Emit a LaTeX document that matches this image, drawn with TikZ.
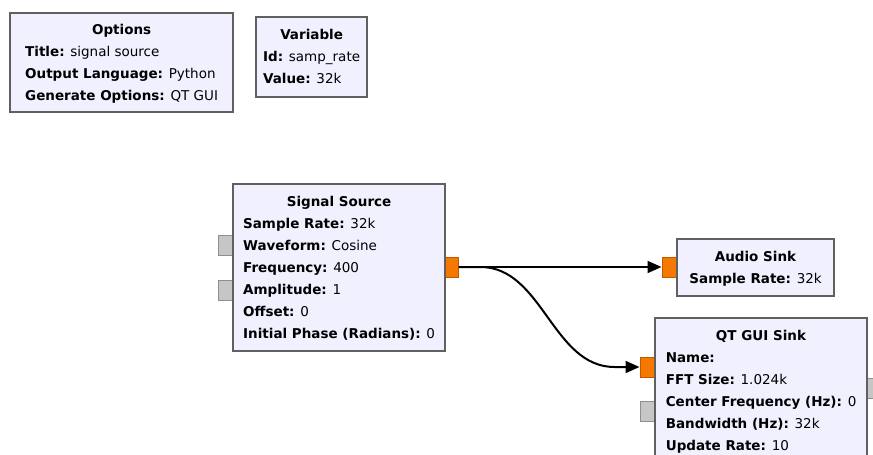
\documentclass[tikz,border=0pt]{standalone}
\usepackage{fontspec}
\setmainfont{DejaVu Sans}
\usetikzlibrary{arrows.meta,positioning}
\definecolor{blockfill}{HTML}{F0F0FF}
\definecolor{blockline}{HTML}{606060}
\definecolor{portorange}{HTML}{F57900}
\definecolor{portorangeline}{HTML}{C05A00}
\definecolor{portgrey}{HTML}{C6C6C6}
\definecolor{portgreyline}{HTML}{8E8E8E}

\tikzset{
  block/.style={rectangle, draw=blockline, fill=blockfill, line width=2.2pt,
    anchor=north west, inner sep=0pt, font=\fontsize{13.5}{22}\selectfont},
  outport/.style={rectangle, draw=portorangeline, fill=portorange, line width=1pt,
    minimum width=14pt, minimum height=20pt, inner sep=0pt},
  idleport/.style={rectangle, draw=portgreyline, fill=portgrey, line width=1pt,
    minimum width=14pt, minimum height=20pt, inner sep=0pt},
  conn/.style={line width=2pt, -{Triangle[length=14pt,width=12pt]}}
}

\begin{document}
\begin{tikzpicture}[x=1pt, y=-1pt]
  \useasboundingbox (0,0) rectangle (873,455);
  \clip (0,0) rectangle (873,455);
  % ports
  \node[idleport] (srcin1) at (225,245) {};
  \node[idleport] (srcin2) at (225,290) {};
  \node[outport] (srcout) at (451,267) {};
  \node[outport] (audioin) at (669,267) {};
  \node[outport] (qtin) at (647,367) {};
  \node[idleport] (qtin2) at (647,411) {};
  \node[idleport] (qtout) at (873,388) {};
  % blocks
  \node[block, minimum width=223pt, minimum height=99pt] (options) at (9,12) {%
    \begin{tabular}{@{}l@{}}
      \multicolumn{1}{@{}c@{}}{\textbf{Options}}\\
      \textbf{Title:} signal source\\
      \textbf{Output Language:} Python\\
      \textbf{Generate Options:} QT GUI
    \end{tabular}};
  \node[block, minimum width=111pt, minimum height=80pt] (variable) at (255,16) {%
    \begin{tabular}{@{}l@{}}
      \multicolumn{1}{@{}c@{}}{\textbf{Variable}}\\
      \textbf{Id:} samp\_rate\\
      \textbf{Value:} 32k
    \end{tabular}};
  \node[block, minimum width=212pt, minimum height=167pt] (src) at (232,183) {%
    \begin{tabular}{@{}l@{}}
      \multicolumn{1}{@{}c@{}}{\textbf{Signal Source}}\\
      \textbf{Sample Rate:} 32k\\
      \textbf{Waveform:} Cosine\\
      \textbf{Frequency:} 400\\
      \textbf{Amplitude:} 1\\
      \textbf{Offset:} 0\\
      \textbf{Initial Phase (Radians):} 0
    \end{tabular}};
  \node[block, minimum width=157pt, minimum height=57pt] (audio) at (676,238) {%
    \begin{tabular}{@{}l@{}}
      \multicolumn{1}{@{}c@{}}{\textbf{Audio Sink}}\\
      \textbf{Sample Rate:} 32k
    \end{tabular}};
  \node[block, minimum width=212pt, minimum height=146pt] (qt) at (654,317) {%
    \begin{tabular}{@{}l@{}}
      \multicolumn{1}{@{}c@{}}{\textbf{QT GUI Sink}}\\
      \textbf{Name:}\\
      \textbf{FFT Size:} 1.024k\\
      \textbf{Center Frequency (Hz):} 0\\
      \textbf{Bandwidth (Hz):} 32k\\
      \textbf{Update Rate:} 10
    \end{tabular}};
  % connections
  \draw[conn] (srcout.east) -- (audioin.west);
  \draw[conn] (srcout.east) -- ++(22,0)
    .. controls +(62,0) and +(-62,0) .. ([xshift=-25pt]qtin.west) -- (qtin.west);
\end{tikzpicture}
\end{document}
